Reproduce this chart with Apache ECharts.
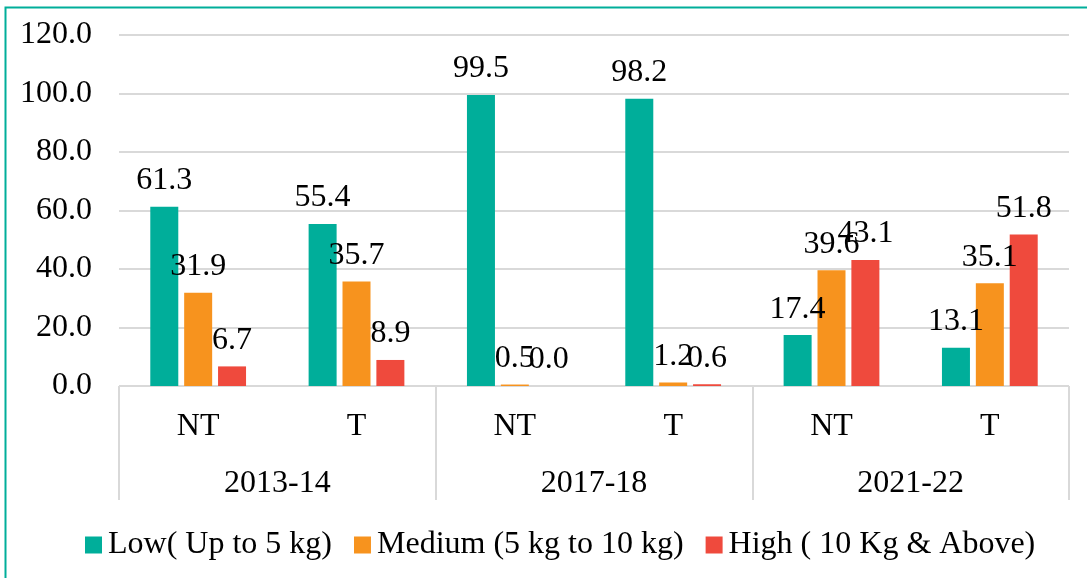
<!DOCTYPE html>
<html>
<head>
<meta charset="utf-8">
<script src="https://cdn.jsdelivr.net/npm/echarts@6/dist/echarts.min.js"></script>
<style>
  html, body { margin: 0; padding: 0; background: #ffffff; }
  #chart { width: 1087px; height: 578px; }
</style>
</head>
<body>
<div id="chart"></div>
<script>
// Tiffin/packing weight shares by year and group (NT / T)
const years = ['2013-14', '2017-18', '2021-22'];
const groups = ['NT', 'T', 'NT', 'T', 'NT', 'T'];
const lowValues = [61.3, 55.4, 99.5, 98.2, 17.4, 13.1];
const mediumValues = [31.9, 35.7, 0.5, 1.2, 39.6, 35.1];
const highValues = [6.7, 8.9, 0.0, 0.6, 43.1, 51.8];
const yTicks = { min: 0, max: 120, interval: 20 };

const FONT = "'Liberation Serif', 'Times New Roman', serif";
const FS = 32;
const GRID_LINE = '#d9d9d9';
const COLORS = ['#00ae9a', '#f7931e', '#ef4a3d'];

const chart = echarts.init(document.getElementById('chart'), null, { renderer: 'canvas' });

function barSeries(name, data, color) {
  return {
    name: name,
    type: 'bar',
    data: data,
    xAxisIndex: 0,
    barWidth: 28,
    barGap: '21%',
    itemStyle: { color: color },
    label: {
      show: true,
      position: 'top',
      distance: 10,
      color: '#000',
      fontFamily: FONT,
      fontSize: FS,
      formatter: p => p.value.toFixed(1)
    }
  };
}

chart.setOption({
  animation: false,
  backgroundColor: '#ffffff',
  textStyle: { fontFamily: FONT },
  grid: { left: 119, right: 18, top: 35, bottom: 192 },
  legend: {
    left: 80,
    top: 524,
    itemWidth: 17,
    itemHeight: 17,
    itemGap: 22,
    icon: 'rect',
    textStyle: { fontFamily: FONT, fontSize: FS, color: '#000', padding: [0, 0, 0, 1] },
    data: ['Low( Up to 5 kg)', 'Medium (5 kg to 10 kg)', 'High ( 10 Kg & Above)']
  },
  xAxis: [
    {
      type: 'category',
      data: groups,
      position: 'bottom',
      axisLine: { show: true, lineStyle: { color: GRID_LINE, width: 1 } },
      axisTick: { show: false },
      axisLabel: { color: '#000', fontFamily: FONT, fontSize: FS, margin: 25 }
    },
    {
      type: 'category',
      data: years,
      position: 'bottom',
      axisLine: { show: false },
      axisTick: { show: true, length: 114, lineStyle: { color: GRID_LINE, width: 2 } },
      axisLabel: { color: '#000', fontFamily: FONT, fontSize: FS, margin: 82 }
    }
  ],
  yAxis: {
    type: 'value',
    min: yTicks.min,
    max: yTicks.max,
    interval: yTicks.interval,
    axisLine: { show: false },
    axisTick: { show: false },
    splitLine: { lineStyle: { color: GRID_LINE, width: 2 } },
    axisLabel: {
      color: '#000',
      fontFamily: FONT,
      fontSize: FS,
      margin: 27,
      formatter: v => v.toFixed(1)
    }
  },
  series: [
    barSeries('Low( Up to 5 kg)', lowValues, COLORS[0]),
    barSeries('Medium (5 kg to 10 kg)', mediumValues, COLORS[1]),
    barSeries('High ( 10 Kg & Above)', highValues, COLORS[2])
  ],
  graphic: [
    {
      type: 'rect',
      left: 3,
      top: 5,
      shape: { x: 0, y: 0, width: 1200, height: 700 },
      style: { fill: 'none', stroke: COLORS[0], lineWidth: 2 },
      silent: true,
      z: 100
    }
  ]
});
</script>
</body>
</html>
